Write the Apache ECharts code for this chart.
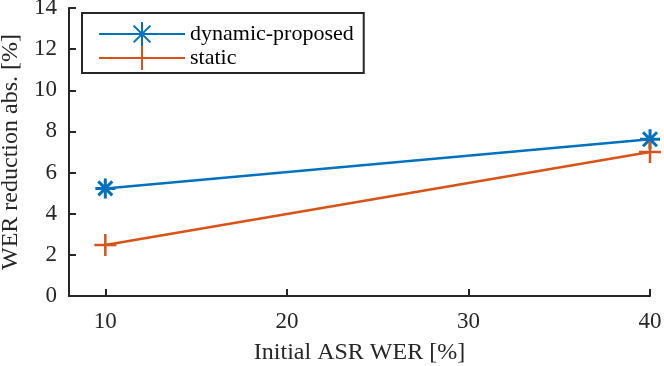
<!DOCTYPE html>
<html>
<head>
<meta charset="utf-8">
<script src="https://cdn.jsdelivr.net/npm/echarts@6/dist/echarts.min.js"></script>
<style>
    body { margin: 0; background: #fff; }
    #chart { width: 664px; height: 366px; }
</style>
</head>
<body>
<div id="chart"></div>
<script>
    // values
    var initialWer = [10, 40];
    var dynamicProposed = [5.23, 7.62];
    var staticVals = [2.48, 7.0];
    var xTicks = [10, 20, 30, 40];

    var axisColor = '#262626';
    var serif = '"Liberation Serif", "DejaVu Serif", serif';

    var asterisk = 'path://M10,0 L10,20 M0,10 L20,10 M3,3 L17,17 M17,3 L3,17';
    var plus = 'path://M10,0 L10,20 M0,10 L20,10';

    function pairs(xs, ys) {
        return xs.map(function (x, i) { return [x, ys[i]]; });
    }

    var myChart = echarts.init(document.getElementById('chart'));
    myChart.setOption({
        animation: false,
        grid: {
            left: 69,
            right: 14,
            top: 8,
            bottom: 70,
            containLabel: false,
            outerBoundsMode: 'none'
        },
        legend: {
            orient: 'vertical',
            left: 82,
            top: 13,
            padding: [8, 10, 2, 16],
            itemWidth: 86,
            itemHeight: 30,
            itemGap: -2,
            borderColor: axisColor,
            borderWidth: 2,
            backgroundColor: '#fff',
            textStyle: {
                fontFamily: serif,
                fontSize: 22,
                lineHeight: 20,
                color: '#000'
            },
            data: ['dynamic-proposed', 'static']
        },
        xAxis: {
            type: 'value',
            min: 8,
            max: 40,
            interval: 10,
            name: 'Initial ASR WER [%]',
            nameLocation: 'middle',
            nameGap: 45,
            nameTextStyle: { fontFamily: serif, fontSize: 24, color: axisColor },
            axisLine: { lineStyle: { color: axisColor, width: 2 } },
            axisTick: { inside: true, length: 7, lineStyle: { color: axisColor, width: 2 },
                customValues: xTicks },
            axisLabel: { margin: 14, fontFamily: serif, fontSize: 23, color: axisColor,
                customValues: xTicks },
            splitLine: { show: false }
        },
        yAxis: {
            type: 'value',
            min: 0,
            max: 14,
            interval: 2,
            name: 'WER reduction abs. [%]',
            nameLocation: 'middle',
            nameGap: 44,
            nameTextStyle: { fontFamily: serif, fontSize: 24, color: axisColor },
            axisLine: { show: true, lineStyle: { color: axisColor, width: 2 } },
            axisTick: { show: true, inside: true, length: 7, lineStyle: { color: axisColor, width: 2 } },
            axisLabel: { margin: 12, fontFamily: serif, fontSize: 23, color: axisColor },
            splitLine: { show: false }
        },
        series: [
            {
                name: 'dynamic-proposed',
                type: 'line',
                data: pairs(initialWer, dynamicProposed),
                symbol: asterisk,
                symbolSize: 20,
                showAllSymbol: true,
                lineStyle: { color: '#0072BD', width: 2.5 },
                itemStyle: { color: '#0072BD', borderColor: '#0072BD', borderWidth: 3 }
            },
            {
                name: 'static',
                type: 'line',
                data: pairs(initialWer, staticVals),
                symbol: plus,
                symbolSize: 22,
                showAllSymbol: true,
                lineStyle: { color: '#D95319', width: 2.5 },
                itemStyle: { color: '#D95319', borderColor: '#D95319', borderWidth: 2.5 }
            }
        ]
    });
</script>
</body>
</html>
